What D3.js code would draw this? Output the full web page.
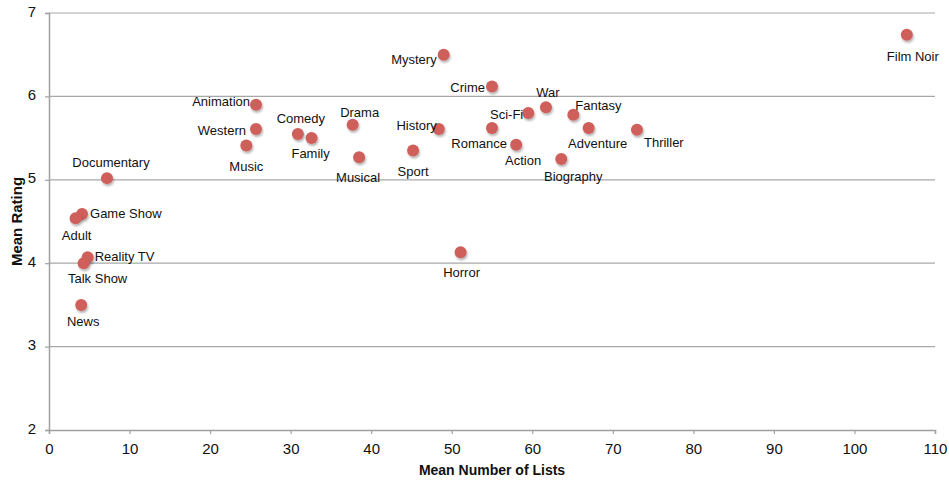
<!DOCTYPE html>
<html>
<head>
<meta charset="utf-8">
<script src="https://cdn.jsdelivr.net/npm/d3@7"></script>
<style>
  body { margin: 0; background: #fff; }
  text { font-family: "Liberation Sans", Arial, Helvetica, sans-serif; fill: #111; }
</style>
</head>
<body>
<div id="chart"></div>
<script>
// genres, mean number of lists, mean rating
var genres = ["Film Noir", "Mystery", "Crime", "War", "Sci-Fi", "Fantasy", "Adventure", "Thriller",
  "Romance", "History", "Action", "Biography", "Sport", "Musical", "Drama", "Family", "Comedy",
  "Animation", "Western", "Music", "Documentary", "Game Show", "Adult", "Reality TV", "Talk Show",
  "News", "Horror"];
var meanLists = [106.5, 49.0, 55.0, 61.7, 59.5, 65.1, 67.0, 73.0,
  55.0, 48.4, 58.0, 63.6, 45.2, 38.5, 37.7, 32.6, 30.9,
  25.7, 25.7, 24.5, 7.2, 4.1, 3.3, 4.8, 4.3,
  4.0, 51.1];
var meanRating = [6.74, 6.50, 6.12, 5.87, 5.80, 5.78, 5.62, 5.60,
  5.62, 5.61, 5.42, 5.25, 5.35, 5.27, 5.66, 5.50, 5.55,
  5.90, 5.61, 5.41, 5.02, 4.59, 4.54, 4.07, 4.00,
  3.50, 4.13];
var xTicks = [0, 10, 20, 30, 40, 50, 60, 70, 80, 90, 100, 110];
var yTicks = [2, 3, 4, 5, 6, 7];

// label placement: [dx, dy, anchor] relative to the dot
var labelPos = [
  [6, 22, "middle"], [-7, 5, "end"], [-7, 1, "end"], [2, -15, "middle"], [-5, 1, "end"],
  [2, -9, "start"], [9, 15, "middle"], [7, 13, "start"],
  [15, 15, "end"], [-2, -3, "end"], [7, 16, "middle"], [12, 17, "middle"], [0, 21, "middle"],
  [-1, 20, "middle"], [7, -12, "middle"], [-1, 15, "middle"], [3, -15, "middle"],
  [-6, -3, "end"], [-10, 2, "end"], [0, 21, "middle"], [4, -16, "middle"],
  [8, -1, "start"], [1, 17, "middle"], [7, -1, "start"], [14, 15, "middle"],
  [2, 17, "middle"], [1, 20, "middle"]
];

var W = 949, H = 482;
var mLeft = 49, mRight = 935, mTop = 13, mBottom = 430;

var x = d3.scaleLinear().domain([0, 110]).range([mLeft, mRight]);
var y = d3.scaleLinear().domain([2, 7]).range([mBottom, mTop]);

var svg = d3.select("#chart").append("svg")
  .attr("width", W)
  .attr("height", H);

var defs = svg.append("defs");
var f = defs.append("filter").attr("id", "shadow")
  .attr("x", "-50%").attr("y", "-50%").attr("width", "200%").attr("height", "200%");
f.append("feDropShadow").attr("dx", 1).attr("dy", 2).attr("stdDeviation", 1.2)
  .attr("flood-color", "#000").attr("flood-opacity", 0.3);

// gridlines
svg.append("g").selectAll("line")
  .data(yTicks.filter(function(d) { return d > 2; }))
  .enter().append("line")
  .attr("x1", mLeft).attr("x2", mRight)
  .attr("y1", function(d) { return y(d); })
  .attr("y2", function(d) { return y(d); })
  .attr("stroke", "#a8a8a8").attr("stroke-width", 1.2);

// axes
var xAxis = svg.append("g")
  .attr("transform", "translate(0," + mBottom + ")")
  .call(d3.axisBottom(x).tickValues(xTicks).tickFormat(d3.format("d")).tickSize(4).tickPadding(6));
var yAxis = svg.append("g")
  .attr("transform", "translate(" + mLeft + ",0)")
  .call(d3.axisLeft(y).tickValues(yTicks).tickFormat(d3.format("d")).tickSize(4).tickPadding(9));

[xAxis, yAxis].forEach(function(a) {
  a.select(".domain").attr("stroke", "#a0a0a0").attr("stroke-width", 1.5);
  a.selectAll(".tick line").attr("stroke", "#a0a0a0").attr("stroke-width", 1.2);
  a.selectAll(".tick text").attr("font-size", 15).attr("fill", "#111")
    .attr("font-family", "Liberation Sans, Arial, sans-serif");
});
xAxis.selectAll(".tick text").attr("dy", "0.9em");
yAxis.selectAll(".tick text").attr("dy", "0.2em");

// axis titles
svg.append("text")
  .attr("x", (mLeft + mRight) / 2).attr("y", 475)
  .attr("text-anchor", "middle")
  .attr("font-size", 14).attr("font-weight", "bold")
  .text("Mean Number of Lists");
svg.append("text")
  .attr("transform", "translate(22," + ((mTop + mBottom) / 2) + ") rotate(-90)")
  .attr("text-anchor", "middle")
  .attr("font-size", 15).attr("font-weight", "bold")
  .text("Mean Rating");

// points
svg.append("g").selectAll("circle")
  .data(genres)
  .enter().append("circle")
  .attr("cx", function(d, i) { return x(meanLists[i]); })
  .attr("cy", function(d, i) { return y(meanRating[i]); })
  .attr("r", 6)
  .attr("fill", "#cf5f5a")
  .attr("filter", "url(#shadow)");

// labels
svg.append("g").selectAll("text")
  .data(genres)
  .enter().append("text")
  .attr("x", function(d, i) { return x(meanLists[i]) + labelPos[i][0]; })
  .attr("y", function(d, i) { return y(meanRating[i]) + labelPos[i][1]; })
  .attr("dy", "0.35em")
  .attr("text-anchor", function(d, i) { return labelPos[i][2]; })
  .attr("font-size", 13)
  .text(function(d) { return d; });
</script>
</body>
</html>
